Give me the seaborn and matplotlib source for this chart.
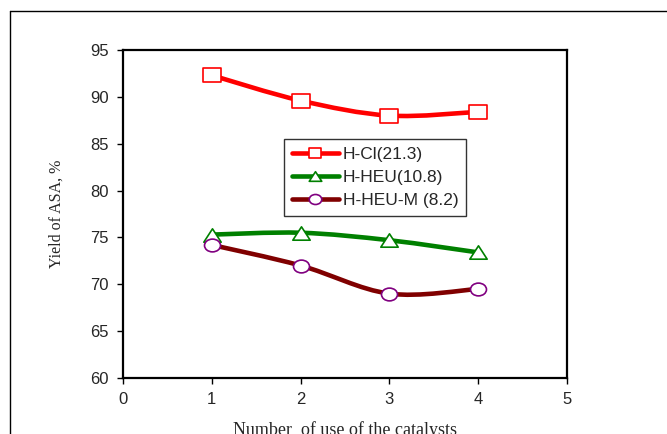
import numpy as np
import pandas as pd
import matplotlib
matplotlib.use("Agg")
import matplotlib.pyplot as plt
from matplotlib.path import Path
from matplotlib.patches import PathPatch
from matplotlib.lines import Line2D
import seaborn as sns

# ---- data ----
uses = [1, 2, 3, 4]
h_cl = [92.3, 89.6, 88.0, 88.4]
h_heu = [75.3, 75.5, 74.7, 73.4]
h_heu_m = [74.2, 72.0, 69.0, 69.5]
series_names = ["H-Cl(21.3)", "H-HEU(10.8)", "H-HEU-M (8.2)"]
x_ticks = [0, 1, 2, 3, 4, 5]
y_ticks = [60, 65, 70, 75, 80, 85, 90, 95]

line_colors = ["#ff0000", "#008000", "#800000"]
edge_colors = ["#ff0000", "#008000", "#800080"]

# slightly flattened markers (as in the reference)
sq = Path([(-1, -0.77), (1, -0.77), (1, 0.77), (-1, 0.77), (-1, -0.77)],
          [Path.MOVETO, Path.LINETO, Path.LINETO, Path.LINETO, Path.CLOSEPOLY])
tri = Path([(-1, -0.77), (1, -0.77), (0, 0.77), (-1, -0.77)],
           [Path.MOVETO, Path.LINETO, Path.LINETO, Path.CLOSEPOLY])
circ0 = Path.unit_circle()
circ = Path(circ0.vertices * np.array([1.0, 0.8]), circ0.codes)
markers = [sq, tri, circ]
msizes = [12.5, 12.5, 11.5]

sns.set_theme(style="white")
plt.rcParams["font.family"] = ["Liberation Sans", "DejaVu Sans"]

fig = plt.figure(figsize=(6.67, 4.34), dpi=100)
ax = fig.add_axes([123 / 667, 1 - 378 / 434, 444 / 667, 328 / 434])

df = pd.DataFrame({
    "x": uses * 3,
    "y": h_cl + h_heu + h_heu_m,
    "s": sum([[n] * len(uses) for n in series_names], []),
})


def smooth_path(xs, ys):
    pts = np.column_stack([xs, ys]).astype(float)
    n = len(pts)
    verts = [pts[0]]
    codes = [Path.MOVETO]
    for i in range(n - 1):
        p0 = pts[i - 1] if i > 0 else pts[i]
        p1 = pts[i]
        p2 = pts[i + 1]
        p3 = pts[i + 2] if i + 2 < n else pts[i + 1]
        c1 = p1 + (p2 - p0) / 6.0
        c2 = p2 - (p3 - p1) / 6.0
        verts += [c1, c2, p2]
        codes += [Path.CURVE4] * 3
    return Path(verts, codes)


for i, name in enumerate(series_names):
    sub = df[df["s"] == name]
    patch = PathPatch(smooth_path(sub["x"].values, sub["y"].values),
                      facecolor="none", edgecolor=line_colors[i], lw=3.3,
                      zorder=2, capstyle="round")
    ax.add_patch(patch)
    sns.scatterplot(data=sub, x="x", y="y", ax=ax, marker=markers[i],
                    s=msizes[i] ** 2, facecolor="white",
                    edgecolor=edge_colors[i], linewidth=1.2, zorder=3,
                    legend=False)

ax.set_xlim(0, 5)
ax.set_ylim(60, 95)
ax.set_xticks(x_ticks)
ax.set_yticks(y_ticks)
ax.set_xticklabels([str(t) for t in x_ticks], fontsize=12)
ax.set_yticklabels([str(t) for t in y_ticks], fontsize=12)
ax.tick_params(axis="both", direction="out", length=4.3, width=1,
               color="black", bottom=True, left=True)
ax.tick_params(axis="x", pad=6)
ax.tick_params(axis="y", pad=6)
for sp in ax.spines.values():
    sp.set_color("black")
    sp.set_linewidth(1.6)
ax.grid(False)

ax.set_xlabel("Number  of use of the catalysts", family=["Liberation Serif"],
              fontsize=13, labelpad=10)
ax.set_ylabel("Yield of ASA, %", family=["Liberation Serif"], fontsize=11.5,
              labelpad=18)

handles = [Line2D([0], [0], color=line_colors[i], lw=3.3, marker=markers[i],
                  markersize=9, markerfacecolor="white",
                  markeredgecolor=edge_colors[i], markeredgewidth=1.2)
           for i in range(3)]
leg = ax.legend(handles, series_names, loc="upper left",
                bbox_to_anchor=(284 / 667, 1 - 139 / 434),
                bbox_transform=fig.transFigure, frameon=True, fancybox=False,
                edgecolor="black", fontsize=12.5, handlelength=2.7,
                borderpad=0.45, labelspacing=0.45, handletextpad=0.25,
                borderaxespad=0)
leg.get_frame().set_linewidth(1.0)

# outer frame (partly cropped)
fig.add_artist(Line2D([10 / 667, 1.01], [1 - 11 / 434, 1 - 11 / 434],
                      color="black", lw=1.0, transform=fig.transFigure))
fig.add_artist(Line2D([10 / 667, 10 / 667], [1 - 11 / 434, -0.01],
                      color="black", lw=1.0, transform=fig.transFigure))

fig.savefig("out.png", dpi=100)
